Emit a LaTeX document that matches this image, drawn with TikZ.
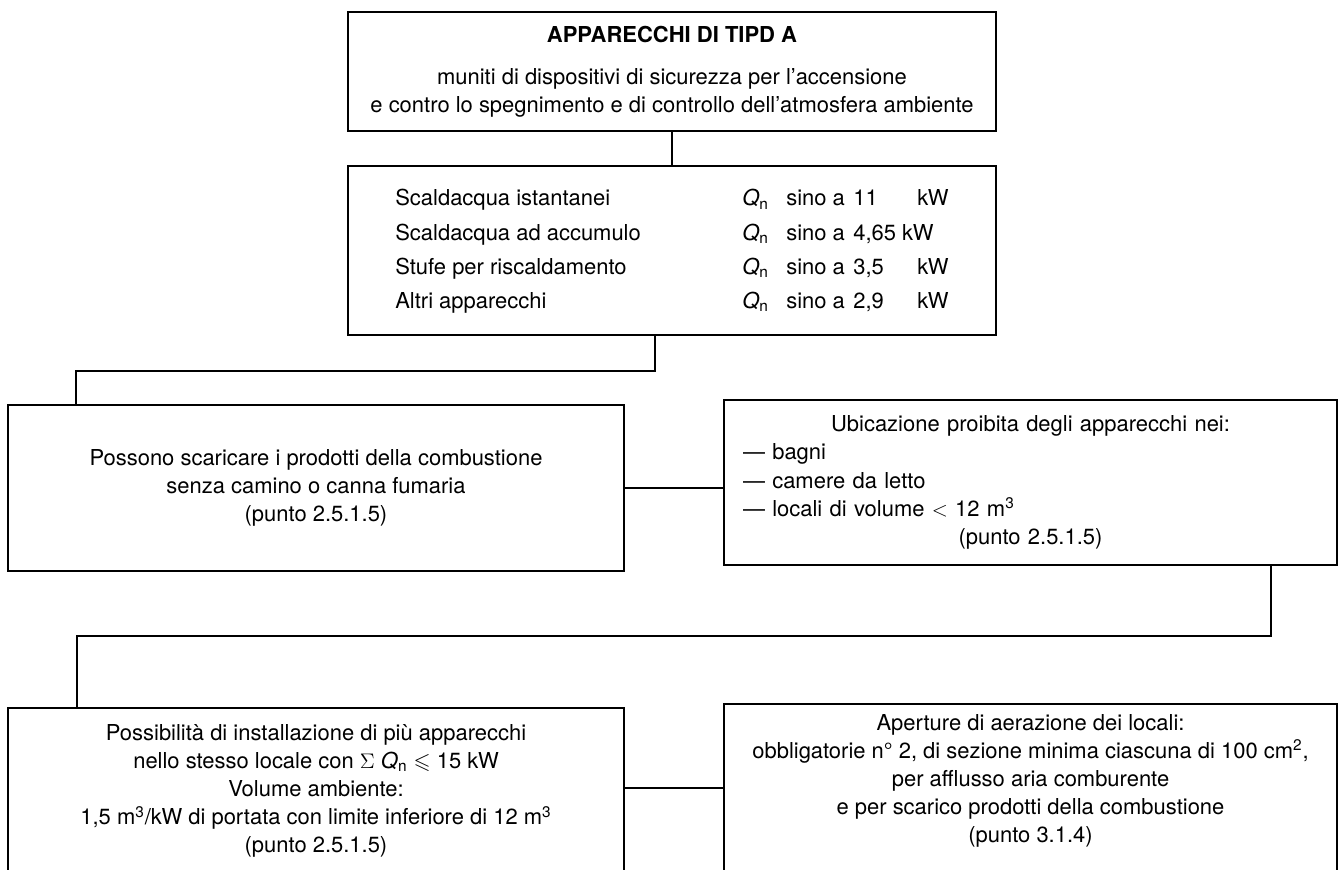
\documentclass[tikz,border=0pt]{standalone}
\usepackage{amssymb}
\usepackage{fontspec}
\setmainfont{TeX Gyre Heros}

\begin{document}
\begin{tikzpicture}[
  box/.style={draw, line width=1.2pt, inner sep=0pt, align=center, font=\fontsize{12.5}{16}\selectfont},
  txt/.style={inner sep=0pt, align=center, font=\fontsize{12.5}{16}\selectfont},
  link/.style={line width=1pt}]

\clip (0,0) rectangle (26.8,17.38);

\node[box, minimum width=12.96cm, minimum height=2.38cm] (tipo) at (13.44,15.95)
  {\textbf{APPARECCHI DI TIPD A}\\[8pt]
   muniti di dispositivi di sicurezza per l'accensione\\
   e contro lo spegnimento e di controllo dell'atmosfera ambiente};

\node[box, minimum width=12.96cm, minimum height=3.38cm] (portate) at (13.44,12.37)
  {\def\arraystretch{1.22}%
   \begin{tabular}{@{}p{6.94cm}@{}p{0.88cm}@{}p{1.34cm}@{}p{1.28cm}@{}l@{}}
   Scaldacqua istantanei & \textit{Q}\textsubscript{n} & sino a & 11 & kW\\
   Scaldacqua ad accumulo & \textit{Q}\textsubscript{n} & sino a & \multicolumn{2}{@{}l@{}}{4,65 kW}\\
   Stufe per riscaldamento & \textit{Q}\textsubscript{n} & sino a & 3,5 & kW\\
   Altri apparecchi & \textit{Q}\textsubscript{n} & sino a & 2,9 & kW
   \end{tabular}};

\node[box, minimum width=12.32cm, minimum height=3.32cm] (scarico) at (6.32,7.62)
  {Possono scaricare i prodotti della combustione\\
   senza camino o canna fumaria\\
   (punto 2.5.1.5)};

\node[box, minimum width=12.26cm, minimum height=3.30cm, align=left, text width=11.5cm] (divieto) at (20.61,7.73)
  {\makebox[\hsize]{Ubicazione proibita degli apparecchi nei:}\\
   --- bagni\\
   --- camere da letto\\
   --- locali di volume $<$ 12 m\textsuperscript{3}\\
   \makebox[\hsize]{(punto 2.5.1.5)}};

\node[box, minimum width=12.32cm, minimum height=4.5cm, anchor=north] (locale) at (6.32,3.24) {};
\node[txt, anchor=north] (localetxt) at (6.32,2.90)
  {Possibilità di installazione di più apparecchi\\
   nello stesso locale con $\Sigma$ \textit{Q}\textsubscript{n} $\leqslant$ 15 kW\\
   Volume ambiente:\\
   1,5 m\textsuperscript{3}/kW di portata con limite inferiore di 12 m\textsuperscript{3}\\
   (punto 2.5.1.5)};

\node[box, minimum width=12.26cm, minimum height=4.5cm, anchor=north] (aerazione) at (20.61,3.32) {};
\node[txt, anchor=north] (aerazionetxt) at (20.61,3.10)
  {Aperture di aerazione dei locali:\\
   obbligatorie n° 2, di sezione minima ciascuna di 100 cm\textsuperscript{2},\\
   per afflusso aria comburente\\
   e per scarico prodotti della combustione\\
   (punto 3.1.4)};

\coordinate (bend1) at (1.52,9.96);
\coordinate (bend2) at (1.54,4.66);
\coordinate (bend3) at (13.5,1.62);

\draw[link] (tipo) -- (portate);
\draw[link] ([xshift=-0.34cm]portate.south) |- (bend1) -- (bend1 |- scarico.north);
\draw[link] (scarico.east) -- (scarico.east -| divieto.west);
\draw[link] ([xshift=4.81cm]divieto.south) |- (bend2) -- (bend2 |- locale.north);
\draw[link] (locale.east |- bend3) -- (bend3 -| aerazione.west);

\end{tikzpicture}
\end{document}
